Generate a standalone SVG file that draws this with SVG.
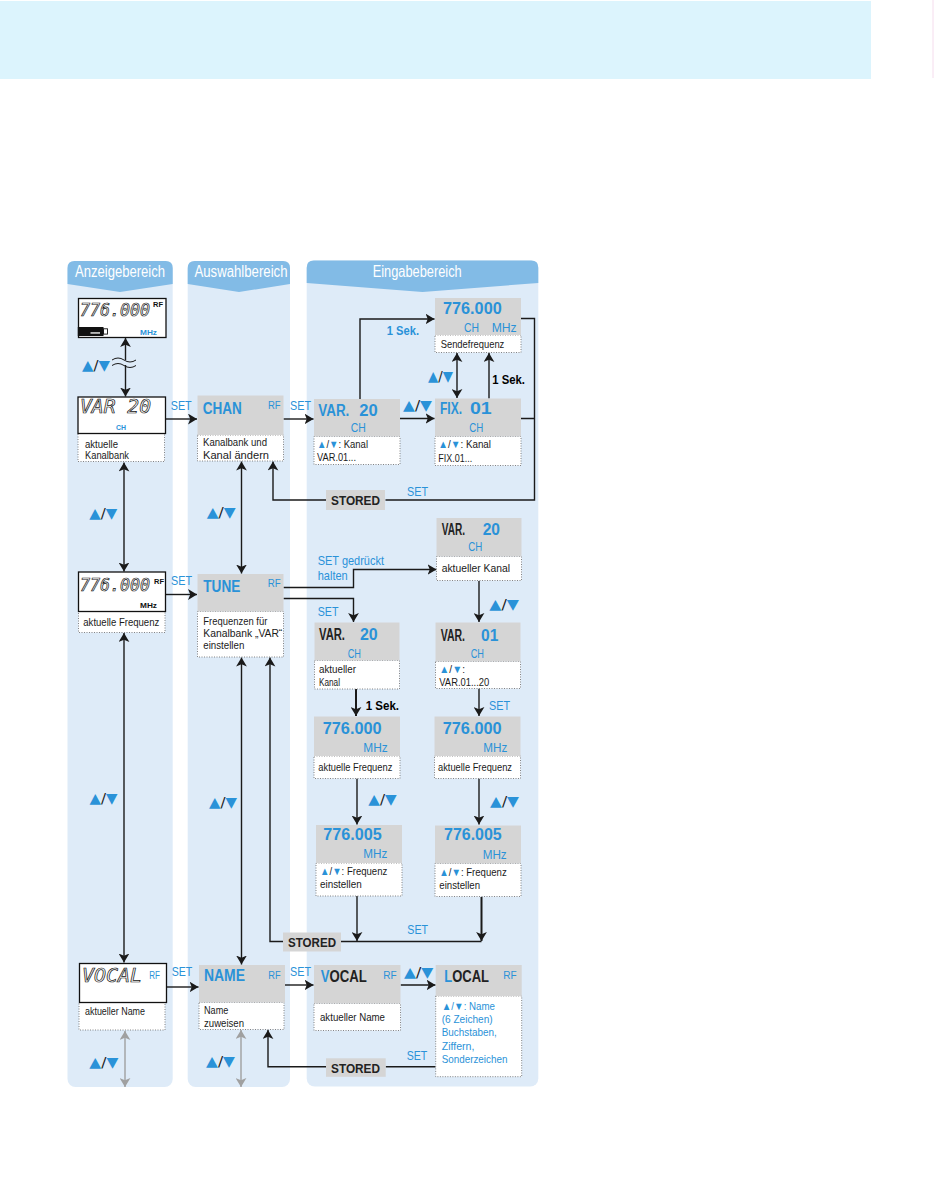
<svg xmlns="http://www.w3.org/2000/svg" width="934" height="1199" viewBox="0 0 934 1199">
<style>
text{font-family:'Liberation Sans',Arial,sans-serif}
.lbl{font-size:11px;fill:#1a1a1a}
.blbl{font-size:11px;fill:#2a92d8}
.big{font-size:16px;font-weight:bold;fill:#2a92d8}
.bigk{font-size:16px;font-weight:bold;fill:#222}
.ch{font-size:12.5px;fill:#2a92d8}
.rf{font-size:11.5px;fill:#2a92d8}
.set{font-size:13.5px;fill:#2a92d8}
.sek{font-size:12.5px;font-weight:bold}
.sekb{font-size:12.5px;font-weight:bold;fill:#2a92d8}
.st{font-size:13.5px;font-weight:bold;fill:#222}
.hdr{font-size:16px;fill:#fff}
.lcd{font-family:'DejaVu Sans Mono',monospace;font-style:italic;font-size:19px;fill:#fff;stroke:#111;stroke-width:0.7}
.lcds{font-family:'DejaVu Sans Mono',monospace;font-style:italic;font-size:17px;fill:#fff;stroke:#111;stroke-width:0.7}
.tri{font-family:'DejaVu Sans',sans-serif;font-size:14px;fill:#1a1a1a}
.b{fill:#2a92d8}
.col{fill:#deebf8}
.pill{fill:#82bbe6}
.gbox{fill:#d5d5d5}
.lbox{fill:#fff;stroke:#777;stroke-width:0.9;stroke-dasharray:1 1.5}
.lcdbox{fill:#fff;stroke:#111;stroke-width:1.3}
.ln{fill:none;stroke:#1a1a1a;stroke-width:1.4}
.lnt{fill:none;stroke:#1a1a1a;stroke-width:2}
.lng{fill:none;stroke:#a0a0a0;stroke-width:1.4}
</style>
<defs>
<marker id="ah" viewBox="0 0 10 12" refX="10" refY="6" markerWidth="9" markerHeight="11" markerUnits="userSpaceOnUse" orient="auto-start-reverse"><path d="M0,0 L10,6 L0,12 L2.5,6 z" fill="#1a1a1a"/></marker>
<marker id="ahg" viewBox="0 0 10 12" refX="10" refY="6" markerWidth="9" markerHeight="11" markerUnits="userSpaceOnUse" orient="auto-start-reverse"><path d="M0,0 L10,6 L0,12 L2.5,6 z" fill="#a0a0a0"/></marker>
</defs>

<rect x="0" y="1" width="871" height="78" fill="#dcf4fd"/>
<line x1="933" y1="0" x2="933" y2="78" stroke="#f5dced" stroke-width="1"/>

<g id="columns">
<rect class="col" x="67.5" y="261" width="105.2" height="826" rx="8"/>
<rect class="col" x="187.7" y="261" width="102.3" height="826" rx="8"/>
<rect class="col" x="306.7" y="260.5" width="231.6" height="826" rx="8"/>
<path class="pill" d="M67.5,284 V268 Q67.5,261 74.5,261 H165.7 Q172.7,261 172.7,268 V284 L120,292 Z"/>
<path class="pill" d="M187.7,284 V268 Q187.7,261 194.7,261 H283 Q290,261 290,268 V284 L239,292 Z"/>
<path class="pill" d="M306.7,283 V267.5 Q306.7,260.5 313.7,260.5 H531.3 Q538.3,260.5 538.3,267.5 V283 L422.5,292 Z"/>
<text class="hdr" x="75" y="277" textLength="90" lengthAdjust="spacingAndGlyphs">Anzeigebereich</text>
<text class="hdr" x="194.5" y="277" textLength="93" lengthAdjust="spacingAndGlyphs">Auswahlbereich</text>
<text class="hdr" x="372.7" y="277" textLength="89" lengthAdjust="spacingAndGlyphs">Eingabebereich</text>
</g>

<g id="connectors">
<path class="ln" d="M125.5,338 V396.5" marker-start="url(#ah)" marker-end="url(#ah)"/>
<rect x="112" y="360" width="25" height="5" class="col"/>
<path class="ln" style="stroke-width:1" d="M112,360 q6,-4 12,0 t12,0 M112,365.5 q6,-4 12,0 t12,0"/>
<path class="ln" d="M124,462.5 V571.5" marker-start="url(#ah)" marker-end="url(#ah)"/>
<path class="ln" d="M124,633 V962.5" marker-start="url(#ah)" marker-end="url(#ah)"/>
<path class="lng" d="M125,1031 V1087" marker-start="url(#ahg)" marker-end="url(#ahg)"/>
<path class="ln" d="M166,419 H197" marker-end="url(#ah)"/>
<path class="ln" d="M165.5,594.5 H197" marker-end="url(#ah)"/>
<path class="ln" d="M167,987 H198.5" marker-end="url(#ah)"/>
<path class="ln" d="M241.5,461.5 V573.5" marker-start="url(#ah)" marker-end="url(#ah)"/>
<path class="ln" d="M241.5,657.5 V964.5" marker-start="url(#ah)" marker-end="url(#ah)"/>
<path class="lng" d="M241,1030 V1087" marker-start="url(#ahg)" marker-end="url(#ahg)"/>
<path class="ln" d="M283.5,419 H313.5" marker-end="url(#ah)"/>
<path class="ln" d="M360,399 V319 H434.5" marker-end="url(#ah)"/>
<path class="ln" d="M400,418.5 H434.5" marker-end="url(#ah)"/>
<path class="ln" d="M457,353 V398" marker-start="url(#ah)" marker-end="url(#ah)"/>
<path class="ln" d="M489,398.5 V353" marker-end="url(#ah)"/>
<path class="ln" d="M521,318.5 H534.5 V500 H385.5 M521,418.5 H534.5"/>
<path class="ln" d="M326,500 H273 V461.5" marker-end="url(#ah)"/>
<path class="ln" d="M283.5,587.5 H353.5 V569.5 H436.5" marker-end="url(#ah)"/>
<path class="ln" d="M283.5,598.5 H353.5 V622" marker-end="url(#ah)"/>
<path class="ln" d="M479,581 V622" marker-end="url(#ah)"/>
<path class="lnt" d="M356,689 V716" marker-end="url(#ah)"/>
<path class="ln" d="M479,688.5 V716" marker-end="url(#ah)"/>
<path class="ln" d="M357,778.5 V824.5" marker-end="url(#ah)"/>
<path class="ln" d="M479,778.5 V824.5" marker-end="url(#ah)"/>
<path class="ln" d="M357,896 V941" marker-end="url(#ah)"/>
<path class="lnt" d="M481.5,897 V941" marker-end="url(#ah)"/>
<path class="ln" d="M341,941.5 H481.5"/>
<path class="ln" d="M283,941.5 H270 V657.5" marker-end="url(#ah)"/>
<path class="ln" d="M285,985 H313.5" marker-end="url(#ah)"/>
<path class="ln" d="M400.7,985 H435.5" marker-end="url(#ah)"/>
<path class="ln" d="M435.7,1066.7 H385.7 M326,1066.7 H268 V1030" marker-end="url(#ah)"/>
</g>

<g id="connector-labels">
<text class="tri" x="82" y="370" textLength="28" lengthAdjust="spacingAndGlyphs"><tspan class="b">▲</tspan>/<tspan class="b">▼</tspan></text>
<text class="tri" x="89.3" y="518" textLength="28" lengthAdjust="spacingAndGlyphs"><tspan class="b">▲</tspan>/<tspan class="b">▼</tspan></text>
<text class="tri" x="89.5" y="802.5" textLength="28" lengthAdjust="spacingAndGlyphs"><tspan class="b">▲</tspan>/<tspan class="b">▼</tspan></text>
<text class="tri" x="89.3" y="1067" textLength="29" lengthAdjust="spacingAndGlyphs"><tspan class="b">▲</tspan>/<tspan class="b">▼</tspan></text>
<text class="tri" x="206.7" y="517" textLength="29" lengthAdjust="spacingAndGlyphs"><tspan class="b">▲</tspan>/<tspan class="b">▼</tspan></text>
<text class="tri" x="209" y="807" textLength="28" lengthAdjust="spacingAndGlyphs"><tspan class="b">▲</tspan>/<tspan class="b">▼</tspan></text>
<text class="tri" x="206" y="1065.5" textLength="29" lengthAdjust="spacingAndGlyphs"><tspan class="b">▲</tspan>/<tspan class="b">▼</tspan></text>
<text class="tri" x="428" y="380.5" textLength="25" lengthAdjust="spacingAndGlyphs"><tspan class="b">▲</tspan>/<tspan class="b">▼</tspan></text>
<text class="tri" x="403" y="410" textLength="29" lengthAdjust="spacingAndGlyphs"><tspan class="b">▲</tspan>/<tspan class="b">▼</tspan></text>
<text class="tri" x="489.3" y="608.5" textLength="29.7" lengthAdjust="spacingAndGlyphs"><tspan class="b">▲</tspan>/<tspan class="b">▼</tspan></text>
<text class="tri" x="368.3" y="804" textLength="28.4" lengthAdjust="spacingAndGlyphs"><tspan class="b">▲</tspan>/<tspan class="b">▼</tspan></text>
<text class="tri" x="490" y="806" textLength="29" lengthAdjust="spacingAndGlyphs"><tspan class="b">▲</tspan>/<tspan class="b">▼</tspan></text>
<text class="tri" x="404" y="977" textLength="29.3" lengthAdjust="spacingAndGlyphs"><tspan class="b">▲</tspan>/<tspan class="b">▼</tspan></text>
<text class="set" x="170.7" y="410" textLength="21" lengthAdjust="spacingAndGlyphs">SET</text>
<text class="set" x="171" y="585" textLength="21" lengthAdjust="spacingAndGlyphs">SET</text>
<text class="set" x="171.7" y="976" textLength="20.6" lengthAdjust="spacingAndGlyphs">SET</text>
<text class="set" x="290" y="410" textLength="21" lengthAdjust="spacingAndGlyphs">SET</text>
<text class="set" x="290" y="976" textLength="21" lengthAdjust="spacingAndGlyphs">SET</text>
<text class="set" x="407" y="496" textLength="21" lengthAdjust="spacingAndGlyphs">SET</text>
<text class="set" x="317.7" y="565" textLength="66.3" lengthAdjust="spacingAndGlyphs">SET gedrückt</text>
<text class="set" x="317.7" y="580" textLength="30" lengthAdjust="spacingAndGlyphs">halten</text>
<text class="set" x="317.7" y="615.7" textLength="20.7" lengthAdjust="spacingAndGlyphs">SET</text>
<text class="set" x="489" y="709.5" textLength="21" lengthAdjust="spacingAndGlyphs">SET</text>
<text class="set" x="407.3" y="934" textLength="20.7" lengthAdjust="spacingAndGlyphs">SET</text>
<text class="set" x="406.7" y="1059.5" textLength="20.6" lengthAdjust="spacingAndGlyphs">SET</text>
<text class="sekb" x="386.7" y="335" textLength="32.3" lengthAdjust="spacingAndGlyphs">1 Sek.</text>
<text class="sek" x="492.3" y="383.5" textLength="32.7" lengthAdjust="spacingAndGlyphs">1 Sek.</text>
<text class="sek" x="365.7" y="709.5" textLength="33.3" lengthAdjust="spacingAndGlyphs">1 Sek.</text>
</g>

<g id="lcd-freq-top">
<rect class="lcdbox" x="78.5" y="298.5" width="87.5" height="39"/>
<text class="lcds" x="80" y="316" textLength="70" lengthAdjust="spacingAndGlyphs">776.000</text>
<text x="153" y="307" font-size="7.5" font-weight="bold" fill="#111">RF</text>
<rect x="77.8" y="327" width="25.7" height="9" fill="#111"/>
<rect x="90.5" y="332.3" width="9.5" height="1.3" fill="#fff"/>
<rect x="103.5" y="328.8" width="4" height="5.3" fill="none" stroke="#111" stroke-width="0.9"/>
<text x="140" y="334.5" font-size="8" font-weight="bold" fill="#2a92d8" textLength="17" lengthAdjust="spacingAndGlyphs">MHz</text>
</g>

<g id="lcd-var20">
<rect class="lbox" x="78" y="433.5" width="86.5" height="28"/>
<rect class="lcdbox" x="78" y="397" width="87.5" height="36.5"/>
<text class="lcd" x="80" y="413" textLength="71" lengthAdjust="spacingAndGlyphs">VAR 20</text>
<text x="116" y="430" font-size="8" font-weight="bold" fill="#2a92d8" textLength="10" lengthAdjust="spacingAndGlyphs">CH</text>
<text class="lbl" x="85" y="447.5" textLength="33" lengthAdjust="spacingAndGlyphs">aktuelle</text>
<text class="lbl" x="85" y="459" textLength="44" lengthAdjust="spacingAndGlyphs">Kanalbank</text>
</g>

<g id="lcd-freq">
<rect class="lbox" x="78.5" y="611.5" width="86.5" height="21"/>
<rect class="lcdbox" x="78.5" y="572" width="87" height="39.5"/>
<text class="lcds" x="80" y="591" textLength="70" lengthAdjust="spacingAndGlyphs">776.000</text>
<text x="154" y="583.5" font-size="7.5" font-weight="bold" fill="#111">RF</text>
<text x="140" y="607.5" font-size="8" font-weight="bold" fill="#111" textLength="17" lengthAdjust="spacingAndGlyphs">MHz</text>
<text class="lbl" x="83.3" y="625.5" textLength="76" lengthAdjust="spacingAndGlyphs">aktuelle Frequenz</text>
</g>

<g id="lcd-vocal">
<rect class="lbox" x="79" y="1002.5" width="86" height="27.5"/>
<rect class="lcdbox" x="79.5" y="963.5" width="87" height="39"/>
<text class="lcd" x="82" y="982" textLength="60" lengthAdjust="spacingAndGlyphs">VOCAL</text>
<text class="rf" x="149.3" y="978.5" textLength="10.7" lengthAdjust="spacingAndGlyphs">RF</text>
<text class="lbl" x="85" y="1014.5" textLength="60" lengthAdjust="spacingAndGlyphs">aktueller Name</text>
</g>

<g id="chan">
<rect class="lbox" x="197.5" y="435" width="86" height="26"/>
<rect class="gbox" x="197.5" y="395.5" width="86" height="39.5"/>
<text class="big" x="202.7" y="414.3" textLength="39" lengthAdjust="spacingAndGlyphs">CHAN</text>
<text class="rf" x="268" y="409" textLength="12.7" lengthAdjust="spacingAndGlyphs">RF</text>
<text class="lbl" x="203" y="446" textLength="64" lengthAdjust="spacingAndGlyphs">Kanalbank und</text>
<text class="lbl" x="203" y="459" textLength="66" lengthAdjust="spacingAndGlyphs">Kanal ändern</text>
</g>

<g id="tune">
<rect class="lbox" x="197.5" y="611.5" width="86" height="45.5"/>
<rect class="gbox" x="197.5" y="574" width="86" height="37.5"/>
<text class="big" x="203.3" y="591.7" textLength="37" lengthAdjust="spacingAndGlyphs">TUNE</text>
<text class="rf" x="267.7" y="586.7" textLength="13" lengthAdjust="spacingAndGlyphs">RF</text>
<text class="lbl" x="203.3" y="624.5" textLength="64" lengthAdjust="spacingAndGlyphs">Frequenzen für</text>
<text class="lbl" x="203.3" y="637" textLength="79" lengthAdjust="spacingAndGlyphs">Kanalbank „VAR“</text>
<text class="lbl" x="203.3" y="649" textLength="41" lengthAdjust="spacingAndGlyphs">einstellen</text>
</g>

<g id="name">
<rect class="lbox" x="199" y="1002.5" width="85" height="27"/>
<rect class="gbox" x="199" y="965" width="86" height="37.5"/>
<text class="big" x="204" y="980.5" textLength="41" lengthAdjust="spacingAndGlyphs">NAME</text>
<text class="rf" x="268.3" y="978.5" textLength="12.4" lengthAdjust="spacingAndGlyphs">RF</text>
<text class="lbl" x="204" y="1014" textLength="24.3" lengthAdjust="spacingAndGlyphs">Name</text>
<text class="lbl" x="204" y="1026.5" textLength="40" lengthAdjust="spacingAndGlyphs">zuweisen</text>
</g>

<g id="sendefrequenz">
<rect class="lbox" x="435" y="335" width="86" height="17.5"/>
<rect class="gbox" x="435" y="298" width="86" height="37"/>
<text class="big" x="443" y="314.3" textLength="58.7" lengthAdjust="spacingAndGlyphs">776.000</text>
<text class="ch" x="464" y="332" textLength="15" lengthAdjust="spacingAndGlyphs">CH</text>
<text class="ch" x="491.7" y="332" textLength="25" lengthAdjust="spacingAndGlyphs">MHz</text>
<text class="lbl" x="440.7" y="348" textLength="63.6" lengthAdjust="spacingAndGlyphs">Sendefrequenz</text>
</g>

<g id="var20-chan">
<rect class="lbox" x="314" y="436.5" width="86" height="28"/>
<rect class="gbox" x="314" y="399" width="86" height="37.5"/>
<text class="big" x="318.3" y="415.7" textLength="31" lengthAdjust="spacingAndGlyphs">VAR.</text>
<text class="big" x="359.3" y="415.7" textLength="18.4" lengthAdjust="spacingAndGlyphs">20</text>
<text class="ch" x="350.7" y="431.7" textLength="15" lengthAdjust="spacingAndGlyphs">CH</text>
<text class="lbl" x="317" y="448" textLength="51" lengthAdjust="spacingAndGlyphs"><tspan class="b">▲</tspan>/<tspan class="b">▼</tspan>: Kanal</text>
<text class="lbl" x="317" y="461" textLength="39" lengthAdjust="spacingAndGlyphs">VAR.01...</text>
</g>

<g id="fix01">
<rect class="lbox" x="435" y="436.5" width="86" height="29"/>
<rect class="gbox" x="435" y="398.5" width="86" height="38"/>
<text class="big" x="440" y="414.3" textLength="22" lengthAdjust="spacingAndGlyphs">FIX.</text>
<text class="big" x="470" y="414.3" textLength="21.7" lengthAdjust="spacingAndGlyphs">01</text>
<text class="ch" x="469.3" y="432" textLength="14" lengthAdjust="spacingAndGlyphs">CH</text>
<text class="lbl" x="438.3" y="448" textLength="52.7" lengthAdjust="spacingAndGlyphs"><tspan class="b">▲</tspan>/<tspan class="b">▼</tspan>: Kanal</text>
<text class="lbl" x="438.3" y="461.5" textLength="34" lengthAdjust="spacingAndGlyphs">FIX.01...</text>
</g>

<g id="stored1">
<rect class="gbox" x="326" y="490" width="59" height="20"/>
<text class="st" x="331" y="505" textLength="49" lengthAdjust="spacingAndGlyphs">STORED</text>
</g>

<g id="var20-current">
<rect class="lbox" x="436.5" y="556.5" width="85" height="24"/>
<rect class="gbox" x="436.5" y="518" width="85" height="38.5"/>
<text class="bigk" x="441.7" y="535" textLength="23.3" lengthAdjust="spacingAndGlyphs">VAR.</text>
<text class="big" x="482.7" y="535" textLength="17.3" lengthAdjust="spacingAndGlyphs">20</text>
<text class="ch" x="468.3" y="551" textLength="14" lengthAdjust="spacingAndGlyphs">CH</text>
<text class="lbl" x="441.7" y="571.5" textLength="68.3" lengthAdjust="spacingAndGlyphs">aktueller Kanal</text>
</g>

<g id="var20-left">
<rect class="lbox" x="314.5" y="660.5" width="85" height="28.5"/>
<rect class="gbox" x="314.5" y="622.5" width="85" height="38"/>
<text class="bigk" x="319" y="640" textLength="26" lengthAdjust="spacingAndGlyphs">VAR.</text>
<text class="big" x="360" y="640" textLength="17.7" lengthAdjust="spacingAndGlyphs">20</text>
<text class="ch" x="347.7" y="657.5" textLength="13.3" lengthAdjust="spacingAndGlyphs">CH</text>
<text class="lbl" x="319" y="673" textLength="37" lengthAdjust="spacingAndGlyphs">aktueller</text>
<text class="lbl" x="319" y="686" textLength="21" lengthAdjust="spacingAndGlyphs">Kanal</text>
</g>

<g id="var01">
<rect class="lbox" x="435.5" y="661.5" width="85" height="27"/>
<rect class="gbox" x="435.5" y="622.5" width="85" height="39"/>
<text class="bigk" x="440.7" y="640.7" textLength="24.3" lengthAdjust="spacingAndGlyphs">VAR.</text>
<text class="big" x="481" y="640.7" textLength="17.3" lengthAdjust="spacingAndGlyphs">01</text>
<text class="ch" x="470.7" y="658" textLength="13.3" lengthAdjust="spacingAndGlyphs">CH</text>
<text class="lbl" x="439.3" y="672.7" textLength="25.7" lengthAdjust="spacingAndGlyphs"><tspan class="b">▲</tspan>/<tspan class="b">▼</tspan>:</text>
<text class="lbl" x="439.3" y="685.5" textLength="50" lengthAdjust="spacingAndGlyphs">VAR.01...20</text>
</g>

<g id="freq-left">
<rect class="lbox" x="314" y="756" width="86" height="22.5"/>
<rect class="gbox" x="314" y="716.5" width="86" height="39.5"/>
<text class="big" x="322.7" y="734.3" textLength="59" lengthAdjust="spacingAndGlyphs">776.000</text>
<text class="ch" x="363.3" y="751.7" textLength="24.4" lengthAdjust="spacingAndGlyphs">MHz</text>
<text class="lbl" x="318.3" y="770.5" textLength="74" lengthAdjust="spacingAndGlyphs">aktuelle Frequenz</text>
</g>

<g id="freq-right">
<rect class="lbox" x="434.5" y="756" width="86" height="22.5"/>
<rect class="gbox" x="434.5" y="716.5" width="86" height="39.5"/>
<text class="big" x="442.7" y="734.3" textLength="59" lengthAdjust="spacingAndGlyphs">776.000</text>
<text class="ch" x="483.3" y="752" textLength="24" lengthAdjust="spacingAndGlyphs">MHz</text>
<text class="lbl" x="438" y="770.5" textLength="74" lengthAdjust="spacingAndGlyphs">aktuelle Frequenz</text>
</g>

<g id="freq005-left">
<rect class="lbox" x="316" y="863" width="86" height="33"/>
<rect class="gbox" x="316" y="825" width="86" height="38"/>
<text class="big" x="323.3" y="840" textLength="58.4" lengthAdjust="spacingAndGlyphs">776.005</text>
<text class="ch" x="363.3" y="858.3" textLength="24" lengthAdjust="spacingAndGlyphs">MHz</text>
<text class="lbl" x="320" y="875" textLength="67.3" lengthAdjust="spacingAndGlyphs"><tspan class="b">▲</tspan>/<tspan class="b">▼</tspan>: Frequenz</text>
<text class="lbl" x="320" y="888" textLength="41.7" lengthAdjust="spacingAndGlyphs">einstellen</text>
</g>

<g id="freq005-right">
<rect class="lbox" x="435" y="863.5" width="86" height="33"/>
<rect class="gbox" x="435" y="825.5" width="86" height="38"/>
<text class="big" x="444" y="840.3" textLength="57.7" lengthAdjust="spacingAndGlyphs">776.005</text>
<text class="ch" x="482.7" y="858.5" textLength="24" lengthAdjust="spacingAndGlyphs">MHz</text>
<text class="lbl" x="439.3" y="876" textLength="67.4" lengthAdjust="spacingAndGlyphs"><tspan class="b">▲</tspan>/<tspan class="b">▼</tspan>: Frequenz</text>
<text class="lbl" x="439.3" y="889" textLength="40.7" lengthAdjust="spacingAndGlyphs">einstellen</text>
</g>

<g id="stored2">
<rect class="gbox" x="283" y="932.5" width="58" height="19"/>
<text class="st" x="288" y="946.5" textLength="48" lengthAdjust="spacingAndGlyphs">STORED</text>
</g>

<g id="vocal">
<rect class="lbox" x="314" y="1003.5" width="86.5" height="27"/>
<rect class="gbox" x="314" y="965" width="86.5" height="38.5"/>
<text class="bigk" x="320.7" y="981.7" textLength="46" lengthAdjust="spacingAndGlyphs"><tspan class="b">V</tspan>OCAL</text>
<text class="rf" x="383.3" y="978.5" textLength="13.4" lengthAdjust="spacingAndGlyphs">RF</text>
<text class="lbl" x="320" y="1021" textLength="65" lengthAdjust="spacingAndGlyphs">aktueller Name</text>
</g>

<g id="local">
<rect class="lbox" x="435.7" y="996" width="86" height="80.7"/>
<rect class="gbox" x="435.7" y="965" width="86" height="31"/>
<text class="bigk" x="444.3" y="981.7" textLength="44.7" lengthAdjust="spacingAndGlyphs"><tspan class="b">L</tspan>OCAL</text>
<text class="rf" x="503.3" y="978.5" textLength="13.4" lengthAdjust="spacingAndGlyphs">RF</text>
<text class="blbl" x="441.7" y="1009.5" textLength="53.3" lengthAdjust="spacingAndGlyphs">▲/▼: Name</text>
<text class="blbl" x="441.7" y="1023" textLength="51" lengthAdjust="spacingAndGlyphs">(6 Zeichen)</text>
<text class="blbl" x="441.7" y="1036" textLength="55" lengthAdjust="spacingAndGlyphs">Buchstaben,</text>
<text class="blbl" x="441.7" y="1050" textLength="32.7" lengthAdjust="spacingAndGlyphs">Ziffern,</text>
<text class="blbl" x="441.7" y="1063" textLength="65.7" lengthAdjust="spacingAndGlyphs">Sonderzeichen</text>
</g>

<g id="stored3">
<rect class="gbox" x="326" y="1058.3" width="59.7" height="18.5"/>
<text class="st" x="331" y="1072.5" textLength="49" lengthAdjust="spacingAndGlyphs">STORED</text>
</g>
</svg>
